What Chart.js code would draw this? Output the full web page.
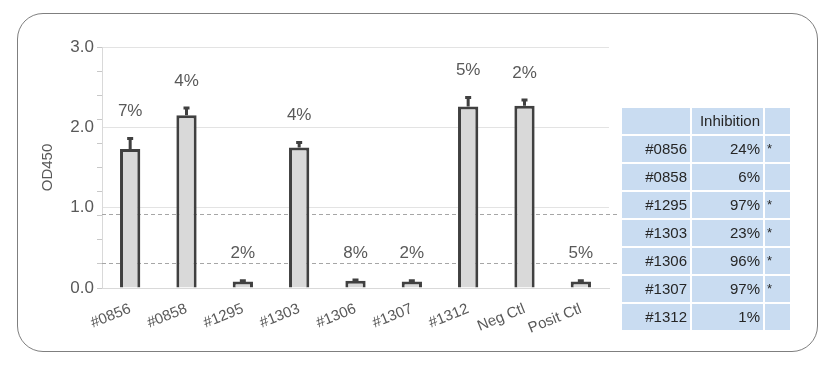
<!DOCTYPE html>
<html>
<head>
<meta charset="utf-8">
<script src="https://cdn.jsdelivr.net/npm/chart.js@4"></script>
<style>
  html, body { margin: 0; padding: 0; background: #fff; }
  #wrap { position: relative; width: 836px; height: 366px; overflow: hidden; font-family: "Liberation Sans", Arial, sans-serif; }
  #frame { position: absolute; left: 17px; top: 13px; width: 799px; height: 337px; border: 1.6px solid #7f7f7f; border-radius: 26px; }
  #odChart { position: absolute; left: 0; top: 0; }
  #inhib { position: absolute; left: 620px; top: 106px; border-collapse: separate; border-spacing: 2px; font-size: 15px; color: #262626; }
  #inhib td { background: #c9dcf1; height: 26px; padding: 0 3px; text-align: right; line-height: 26px; }
  #inhib td.c1 { width: 62px; }
  #inhib td.c2 { width: 65px; }
  #inhib td.c3 { width: 21px; text-align: left; padding: 0 2px; font-size: 13px; }
</style>
</head>
<body>
<div id="wrap">
  <div id="frame"></div>
  <canvas id="odChart" width="836" height="366"></canvas>
  <table id="inhib"></table>
</div>
<script>
// DATA
const samples = ["#0856", "#0858", "#1295", "#1303", "#1306", "#1307", "#1312", "Neg Ctl", "Posit Ctl"];
const od450 = [1.73, 2.15, 0.08, 1.75, 0.09, 0.08, 2.26, 2.27, 0.08];
const odError = [0.13, 0.09, 0.01, 0.06, 0.01, 0.01, 0.11, 0.07, 0.01];
const cvLabels = ["7%", "4%", "2%", "4%", "8%", "2%", "5%", "2%", "5%"];
const thresholds = [0.92, 0.31];

const yMajor = [0, 1, 2, 3];
const yLabels = ["0.0", "1.0", "2.0", "3.0"];
const yMinor = [0, 0.3, 0.6, 0.9, 1.2, 1.5, 1.8, 2.1, 2.4, 2.7, 3.0];

const tableIds = ["#0856", "#0858", "#1295", "#1303", "#1306", "#1307", "#1312"];
const inhibition = ["24%", "6%", "97%", "23%", "96%", "97%", "1%"];
const significant = ["*", "", "*", "*", "*", "*", ""];

// TABLE
const table = document.getElementById("inhib");
let rows = '<tr><td class="c1"></td><td class="c2">Inhibition</td><td class="c3"></td></tr>';
tableIds.forEach((id, i) => {
  rows += `<tr><td class="c1">${id}</td><td class="c2">${inhibition[i]}</td><td class="c3">${significant[i]}</td></tr>`;
});
table.innerHTML = rows;

const textGray = "#595959";
const font = "Liberation Sans, Arial, sans-serif";

// threshold dashed lines behind the bars
const thresholdLines = {
  id: "thresholdLines",
  beforeDatasetsDraw(chart) {
    const { ctx, chartArea, scales } = chart;
    ctx.save();
    ctx.strokeStyle = "#a6a6a6";
    ctx.lineWidth = 1;
    ctx.setLineDash([4, 3]);
    thresholds.forEach(t => {
      const y = Math.round(scales.y.getPixelForValue(t)) + 0.5;
      ctx.beginPath();
      ctx.moveTo(chartArea.left, y);
      ctx.lineTo(chartArea.right + 11, y);
      ctx.stroke();
    });
    ctx.restore();
  }
};

// error bars + percentage labels
const errorBars = {
  id: "errorBars",
  afterDatasetsDraw(chart) {
    const { ctx, scales } = chart;
    const bars = chart.getDatasetMeta(0).data;
    ctx.save();
    ctx.strokeStyle = "#404040";
    ctx.lineWidth = 3;
    bars.forEach((bar, i) => {
      const top = scales.y.getPixelForValue(od450[i] + odError[i]);
      ctx.beginPath();
      ctx.moveTo(bar.x, bar.y);
      ctx.lineTo(bar.x, top);
      ctx.moveTo(bar.x - 3, top);
      ctx.lineTo(bar.x + 3, top);
      ctx.stroke();
      ctx.fillStyle = textGray;
      ctx.font = "17px " + font;
      ctx.textAlign = "center";
      ctx.textBaseline = "middle";
      ctx.fillText(cvLabels[i], bar.x, top - 27);
    });
    ctx.restore();
  }
};

const yTicks = [...new Set([...yMinor, ...yMajor])].sort((a, b) => a - b);

new Chart(document.getElementById("odChart"), {
  type: "bar",
  data: {
    labels: samples,
    datasets: [{
      data: od450,
      backgroundColor: "#d9d9d9",
      borderColor: "#404040",
      borderWidth: 3,
      barPercentage: 0.6,
      categoryPercentage: 0.6
    }]
  },
  options: {
    responsive: false,
    devicePixelRatio: 1,
    animation: false,
    layout: { padding: { left: 36, right: 227, top: 47, bottom: 0 } },
    plugins: { legend: { display: false }, tooltip: { enabled: false } },
    scales: {
      x: {
        grid: { display: false },
        border: { color: "#d9d9d9", width: 1 },
        ticks: {
          color: textGray,
          font: { family: font, size: 15 },
          minRotation: 22,
          maxRotation: 22,
          padding: 4,
          autoSkip: false
        },
        afterFit: s => { s.height = 78; }
      },
      y: {
        min: 0,
        max: 3,
        afterBuildTicks: s => { s.ticks = yTicks.map(v => ({ value: v })); },
        grid: {
          color: c => yMajor.includes(c.tick.value) ? "#e3e3e3" : "rgba(0,0,0,0)",
          tickColor: c => yMinor.includes(c.tick.value) ? "#c8c8c8" : "rgba(0,0,0,0)",
          tickLength: 5
        },
        border: { color: "#d9d9d9", width: 1 },
        ticks: {
          autoSkip: false,
          color: textGray,
          font: { family: font, size: 17 },
          padding: 3,
          callback: v => {
            const k = yMajor.indexOf(v);
            return k >= 0 ? yLabels[k] : "";
          }
        },
        title: {
          display: true,
          text: "OD450",
          color: textGray,
          font: { family: font, size: 15 },
          padding: 3
        },
        afterFit: s => { s.width = 66; }
      }
    }
  },
  plugins: [thresholdLines, errorBars]
});
</script>
</body>
</html>
